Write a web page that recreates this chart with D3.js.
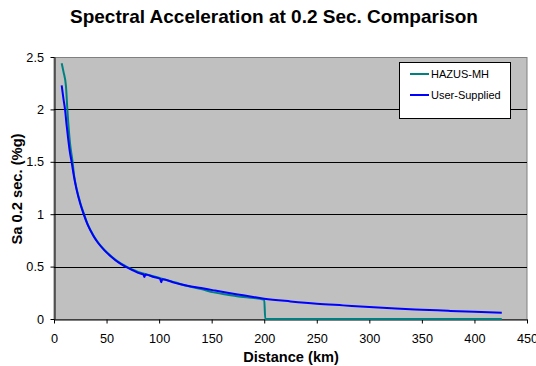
<!DOCTYPE html>
<html>
<head>
<meta charset="utf-8">
<script src="https://cdn.jsdelivr.net/npm/d3@7"></script>
<style>
body{margin:0;background:#fff;}
text{font-family:Arial,"Liberation Sans",sans-serif;}
</style>
</head>
<body>
<svg id="chart" width="536" height="366"></svg>
<script>
const title = "Spectral Acceleration at 0.2 Sec. Comparison";
const xLabel = "Distance (km)";
const yLabel = "Sa 0.2 sec. (%g)";
const xTicks = [0,50,100,150,200,250,300,350,400,450];
const yTicks = [0,0.5,1,1.5,2,2.5];
const seriesNames = ["HAZUS-MH","User-Supplied"];
const seriesColors = ["#008080","#0000FF"];

const hazusX = [7.3,9,11.4,12.7,15.2,17.8,19,21.6,25,27.9,32,37.4,42,48,55,62,68,75,80,90,101,115,127,140,152,165,180,200,201,250,300,350,400,426];
const hazusY = [2.44,2.36,2.22,2.0,1.68,1.49,1.38,1.24,1.11,1.02,0.905,0.8,0.73,0.66,0.595,0.54,0.505,0.47,0.45,0.42,0.39,0.35,0.315,0.285,0.254,0.232,0.21,0.184,0,0,0,0,0,0];

const userX = [7.3,9,10.5,12,13.6,15,16.9,19,21.6,25,27.9,32,37.4,42,48,55,62,68,75,80,85,86,87,95,101,102,103,115,127,140,152,165,180,200,225,250,275,300,325,350,375,400,426];
const userY = [2.23,2.1,2.0,1.85,1.71,1.6,1.49,1.36,1.23,1.1,1.01,0.9,0.795,0.725,0.655,0.59,0.535,0.5,0.465,0.44,0.425,0.40,0.425,0.4,0.382,0.35,0.38,0.345,0.318,0.295,0.273,0.25,0.226,0.194,0.168,0.146,0.13,0.114,0.1,0.089,0.078,0.068,0.06];

const FONT = "Arial,'Liberation Sans',sans-serif";
const svg = d3.select("#chart");
const L = 54, R = 527, T = 57, B = 319;
const x = d3.scaleLinear().domain([0,450]).range([L,R]);
const y = d3.scaleLinear().domain([0,2.5]).range([B,T]);

svg.append("text").attr("x",274).attr("y",22.5).attr("text-anchor","middle")
  .attr("font-size",19).attr("font-weight","bold").text(title);

svg.append("rect").attr("x",L).attr("y",T+0.5).attr("width",R-L).attr("height",B-T)
  .attr("fill","#C0C0C0").attr("stroke","#808080").attr("stroke-width",1);

svg.append("g").selectAll("line").data(yTicks.filter(d=>d>0 && d<2.5)).join("line")
  .attr("x1",L).attr("x2",R).attr("y1",d=>Math.round(y(d))+0.5).attr("y2",d=>Math.round(y(d))+0.5)
  .attr("stroke","#000").attr("stroke-width",1);

const xAxis = svg.append("g").attr("transform",`translate(0,${B+0.5})`)
  .call(d3.axisBottom(x).tickValues(xTicks).tickSize(4).tickSizeOuter(0).tickFormat(d3.format("d")));
xAxis.selectAll("text").attr("font-size",12.7).attr("font-family",FONT).attr("y",14).attr("dy","0.71em");
xAxis.selectAll("line,path").attr("stroke","#000");

const yAxis = svg.append("g").attr("transform",`translate(${L+0.5},0)`)
  .call(d3.axisLeft(y).tickValues(yTicks).tickSize(4).tickSizeOuter(0).tickFormat(d=>d3.format("")(d)));
yAxis.selectAll("text").attr("font-size",12.7).attr("font-family",FONT).attr("x",-10.5);
yAxis.selectAll("line,path").attr("stroke","#000");

svg.append("text").attr("x",291).attr("y",362).attr("text-anchor","middle")
  .attr("font-size",14.6).attr("font-weight","bold").text(xLabel);
svg.append("text").attr("transform","translate(22,189) rotate(-90)").attr("text-anchor","middle")
  .attr("font-size",14.7).attr("font-weight","bold").text(yLabel);

const line = d3.line().x(d=>x(d[0])).y(d=>y(d[1])).curve(d3.curveMonotoneX);
const hazus = hazusX.map((v,i)=>[v,hazusY[i]]);
const user = userX.map((v,i)=>[v,userY[i]]);
svg.append("path").datum(hazus).attr("d",line).attr("fill","none")
  .attr("stroke",seriesColors[0]).attr("stroke-width",2);
svg.append("path").datum(user).attr("d",line).attr("fill","none")
  .attr("stroke",seriesColors[1]).attr("stroke-width",2);

const lg = svg.append("g");
lg.append("rect").attr("x",399.5).attr("y",62.5).attr("width",111).attr("height",56)
  .attr("fill","#fff").attr("stroke","#000");
seriesNames.forEach((n,i)=>{
  const yy = 74 + i*21;
  lg.append("line").attr("x1",410).attr("x2",429).attr("y1",yy).attr("y2",yy)
    .attr("stroke",seriesColors[i]).attr("stroke-width",2);
  lg.append("text").attr("x",431).attr("y",yy+4).attr("font-size",11).text(n);
});
</script>
</body>
</html>
